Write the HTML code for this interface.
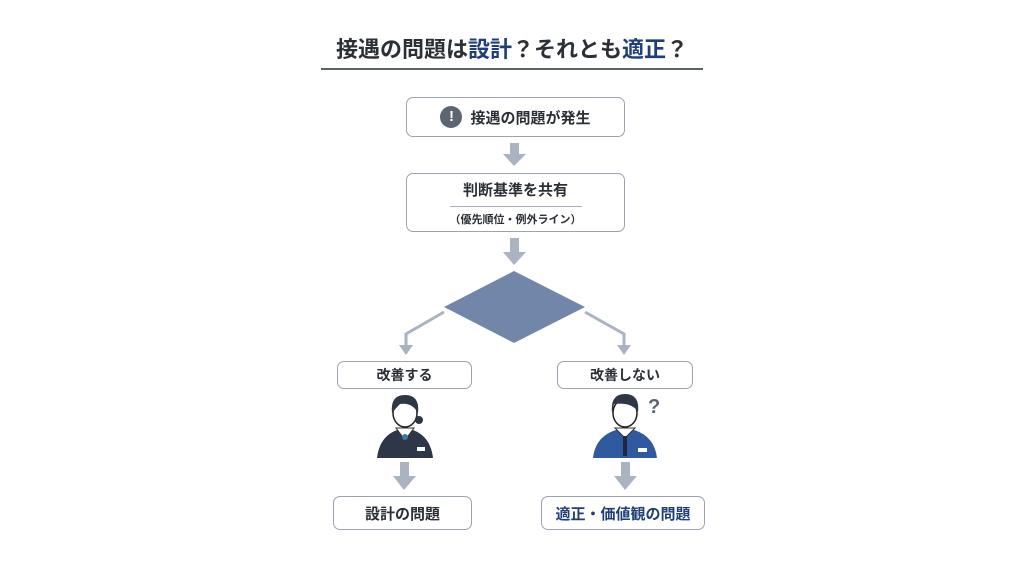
<!DOCTYPE html>
<html><head><meta charset="utf-8"><style>
body{margin:0;width:1024px;height:576px;background:#fff;position:relative;overflow:hidden;font-family:"Liberation Sans","Noto Sans CJK JP",sans-serif;color:#2b2f36}
.a{position:absolute}
.box{position:absolute;border:1.5px solid #9aa3b0;border-radius:7px;background:#fff;box-sizing:border-box;display:flex;align-items:center;justify-content:center;font-weight:bold}
</style></head><body>
<div class="a" style="left:0;top:32px;width:1024px;text-align:center;font-size:22px;font-weight:bold;">接遇の問題は<span style="color:#1f3f78">設計</span>？それとも<span style="color:#1f3f78">適正</span>？</div>
<div class="a" style="left:321px;top:68px;width:382px;height:2px;background:#5c6370"></div>
<div class="box" style="left:406px;top:97px;width:219px;height:40px;font-size:15px;"><span style="display:inline-block;width:22px;height:22px;border-radius:50%;background:#5d6472;color:#fff;text-align:center;line-height:22px;font-size:15px;margin-right:8px">!</span>接遇の問題が発生</div>
<div class="box" style="left:406px;top:173px;width:219px;height:59px;display:block;text-align:center">
<div style="font-size:15px;margin-top:5px">判断基準を共有</div>
<div style="width:132px;height:1px;background:#aab;margin:6px auto 4px"></div>
<div style="font-size:11px">（優先順位・例外ライン）</div></div>
<svg class="a" style="left:0;top:0" width="1024" height="576">
<g fill="#aab3c2">
<rect x="510" y="143" width="9" height="12"/><polygon points="503,154 526,154 514,166"/>
<rect x="510" y="238" width="9" height="15"/><polygon points="503,252 526,252 514,265"/>
<rect x="400" y="462" width="9" height="15"/><polygon points="393,476 416,476 404,490"/>
<rect x="621" y="462" width="9" height="15"/><polygon points="614,476 637,476 625,490"/>
<polygon points="399,345 413,345 406,355"/><polygon points="617,345 631,345 624,355"/>
</g>
<g stroke="#aab3c2" stroke-width="3" fill="none"><polyline points="444,312 406,334 406,346"/><polyline points="585,312 624,334 624,346"/></g>
<polygon points="514,271 585,307 514,343 444,307" fill="#7186a8"/>
<g>
<path d="M377,458 Q380,432 405,428 Q430,432 433,458Z" fill="#2d3748"/>
<path d="M396,428 L405,440 L414,428Z" fill="#fff" stroke="#333"/>
<circle cx="405" cy="437" r="3" fill="#3a78a8"/>
<rect x="417" y="447" width="8" height="4" fill="#fff"/>
<ellipse cx="405" cy="413" rx="12" ry="14" fill="#fff" stroke="#222" stroke-width="1.5"/>
<path d="M392,413 Q390,395 405,395 Q420,395 418,413 Q412,402 400,404 Q396,408 392,413Z" fill="#2d3748"/>
<circle cx="419" cy="420" r="4" fill="#2d3748"/>
</g>
<g>
<path d="M593,458 Q596,432 625,428 Q654,432 657,458Z" fill="#2f5aa0"/>
<path d="M615,428 L625,438 L635,428Z" fill="#fff" stroke="#333"/>
<rect x="623" y="436" width="4" height="20" fill="#1f2a3a"/>
<rect x="638" y="448" width="9" height="4" fill="#fff"/>
<ellipse cx="625" cy="413" rx="12" ry="14" fill="#fff" stroke="#222" stroke-width="1.5"/>
<path d="M612,413 Q610,394 625,394 Q640,394 638,412 Q632,402 614,404Z" fill="#2d3748"/>
<text x="648" y="413" font-size="20" font-weight="bold" fill="#5d6472" font-family="Liberation Sans">?</text>
</g>
</svg>
<div class="box" style="left:337px;top:361px;width:135px;height:28px;font-size:14px;">改善する</div>
<div class="box" style="left:557px;top:361px;width:136px;height:28px;font-size:14px;">改善しない</div>
<div class="box" style="left:333px;top:496px;width:139px;height:34px;font-size:15px;">設計の問題</div>
<div class="box" style="left:541px;top:496px;width:164px;height:34px;font-size:15px;color:#1f3f78">適正・価値観の問題</div>
</body></html>
